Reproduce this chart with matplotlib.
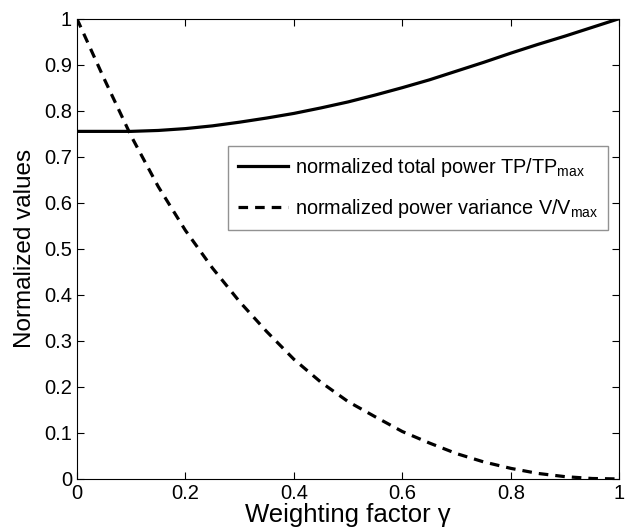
# Normalized total power and power variance vs weighting factor
import numpy as np
from matplotlib import pyplot as plt

plt.rcParams['font.family'] = ['Liberation Sans', 'DejaVu Sans']
plt.rcParams['mathtext.fontset'] = 'custom'
plt.rcParams['mathtext.rm'] = 'Liberation Sans'

# values
gamma = [0.0, 0.05, 0.1, 0.15, 0.2, 0.25, 0.3, 0.35, 0.4, 0.45, 0.5,
         0.55, 0.6, 0.65, 0.7, 0.75, 0.8, 0.85, 0.9, 0.95, 1.0]
total_power = [0.755, 0.755, 0.755, 0.757, 0.761, 0.767, 0.775, 0.784, 0.794, 0.806, 0.819,
               0.834, 0.850, 0.867, 0.886, 0.905, 0.925, 0.944, 0.962, 0.981, 1.0]
power_var = [1.0, 0.87, 0.745, 0.635, 0.54, 0.458, 0.385, 0.32, 0.26, 0.21, 0.168,
             0.135, 0.103, 0.078, 0.055, 0.037, 0.023, 0.012, 0.005, 0.001, 0.0]

xticks = [0, 0.2, 0.4, 0.6, 0.8, 1]
xticklabels = ['0', '0.2', '0.4', '0.6', '0.8', '1']
yticks = [0, 0.1, 0.2, 0.3, 0.4, 0.5, 0.6, 0.7, 0.8, 0.9, 1]
yticklabels = ['0', '0.1', '0.2', '0.3', '0.4', '0.5', '0.6', '0.7', '0.8', '0.9', '1']

fig = plt.figure(figsize=(6.25, 5.31), dpi=100)
ax = fig.add_axes([0.123, 0.098, 0.868, 0.867])

ax.plot(gamma, total_power, color='black', lw=2.3,
        label='normalized total power TP/TP$_{\\mathrm{max}}$')
ax.plot(gamma, power_var, color='black', lw=2.3, dashes=(3.0, 2.2),
        label='normalized power variance V/V$_{\\mathrm{max}}$')

ax.set_xlim(0, 1)
ax.set_ylim(0, 1)
ax.set_xticks(xticks)
ax.set_xticklabels(xticklabels)
ax.set_yticks(yticks)
ax.set_yticklabels(yticklabels)
ax.tick_params(direction='in', top=True, right=True, labelsize=14.5, length=5, width=0.8)
for s in ax.spines.values():
    s.set_linewidth(0.8)

ax.set_xlabel('Weighting factor γ', fontsize=18.5, labelpad=0)
ax.set_ylabel('Normalized values', fontsize=17.5, labelpad=6)

leg = ax.legend(loc='upper left', bbox_to_anchor=(0.279, 0.724), fontsize=14.3,
                frameon=True, fancybox=False, handlelength=2.5, handletextpad=0.35,
                borderpad=0.5, labelspacing=0.95, borderaxespad=0)
leg.get_frame().set_edgecolor('#777777')
leg.get_frame().set_linewidth(1.0)

fig.savefig('out.png', dpi=100)
